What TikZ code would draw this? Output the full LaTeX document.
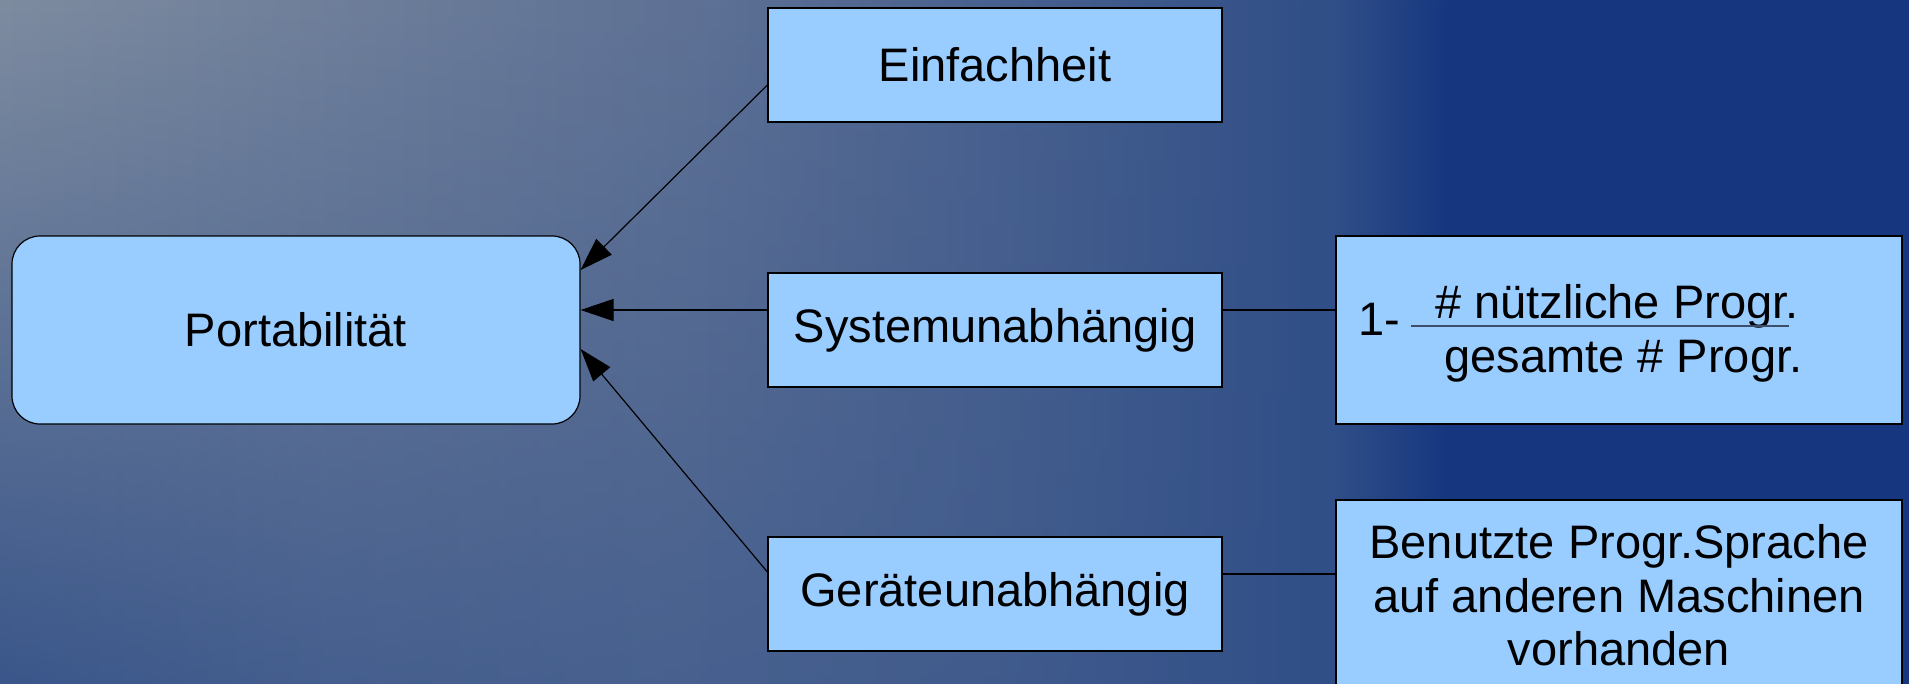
\documentclass[tikz,border=0pt]{standalone}
\usepackage{fontspec}
\setmainfont{Liberation Sans}
\usetikzlibrary{arrows.meta,calc,fadings}
\definecolor{boxfill}{RGB}{153,204,255}
\definecolor{bgA}{RGB}{126,140,160}
\definecolor{bgT}{RGB}{94,113,149}
\definecolor{bgM}{RGB}{48,78,135}
\definecolor{bgN}{RGB}{22,55,128}
\definecolor{bgOa}{RGB}{63,90,140}
\definecolor{bgOb}{RGB}{68,94,141}
\definecolor{fracgray}{RGB}{60,78,105}
\pgfdeclarehorizontalshading{bgbase}{100bp}{color(0bp)=(bgA); color(25bp)=(bgA); color(43.33bp)=(bgT); color(60bp)=(bgM); color(63bp)=(bgN); color(100bp)=(bgN)}
\pgfdeclarehorizontalshading{bgover}{100bp}{color(0bp)=(bgM); color(25bp)=(bgM); color(33.75bp)=(bgOa); color(42.5bp)=(bgOb); color(51.25bp)=(bgOa); color(60bp)=(bgM); color(63bp)=(bgN); color(100bp)=(bgN)}
\tikzfading[name=vfade, top color=transparent!100, bottom color=transparent!13]
\tikzset{
  basebox/.style={draw=black, fill=boxfill, line width=0.6pt, inner sep=0pt,
    font=\fontsize{23.5}{26.75}\selectfont},
  rbox/.style={basebox, rounded corners=14pt, minimum width=284pt, minimum height=94pt},
  sbox/.style={basebox, minimum width=227pt, minimum height=57pt},
  wbox/.style={basebox, minimum width=283pt},
  txt/.style={inner sep=0pt, font=\fontsize{23.5}{26.75}\selectfont},
  conn/.style={draw=black, line width=0.6pt},
  arrowline/.style={conn, -{Triangle[length=16.5pt,width=11pt]}},
  fracline/.style={draw=fracgray, line width=1pt}
}
\begin{document}
\begin{tikzpicture}[x=0.5pt,y=-0.5pt]
\useasboundingbox (0,0) rectangle (1909,684);
\clip (0,0) rectangle (1909,684);
\shade[shading=bgbase] (0,0) rectangle (1909,684);
\shade[shading=bgover, path fading=vfade] (0,0) rectangle (1909,684);

\node[rbox] (port) at (296,330) {Portabilität};
\node[sbox] (ein) at (995,65) {Einfachheit};
\node[sbox] (sys) at (995,330) {Systemunabhängig};
\node[sbox] (ger) at (995,594) {Geräteunabhängig};
\node[wbox, minimum height=94pt] (form) at (1619,330) {};
\node[wbox, minimum height=95.5pt, align=center] (ben) at (1619,595.5)
  {Benutzte Progr.Sprache\\auf anderen Maschinen\\vorhanden};

\node[txt, anchor=base west] (one) at (1358,335) {1-};
\node[txt, anchor=base west] (num) at (1435,318) {\# nützliche Progr.};
\node[txt, anchor=base west] (den) at (1444,372) {gesamte \# Progr.};
\coordinate (fl) at (1411,326);
\coordinate (fr) at (1789,326);
\draw[fracline] (fl) -- (fr);

\draw[arrowline] ([yshift=-10pt]ein.west) -- ([yshift=30pt]port.east);
\draw[arrowline] ([yshift=10pt]sys.west) -- ([yshift=10pt]port.east);
\draw[arrowline] ([yshift=11pt]ger.west) -- ([yshift=-9.5pt]port.east);

\draw[conn] ([yshift=10pt]sys.east) coordinate (s) -- (s -| form.west);
\draw[conn] ([yshift=10pt]ger.east) coordinate (g) -- (g -| ben.west);
\end{tikzpicture}
\end{document}
